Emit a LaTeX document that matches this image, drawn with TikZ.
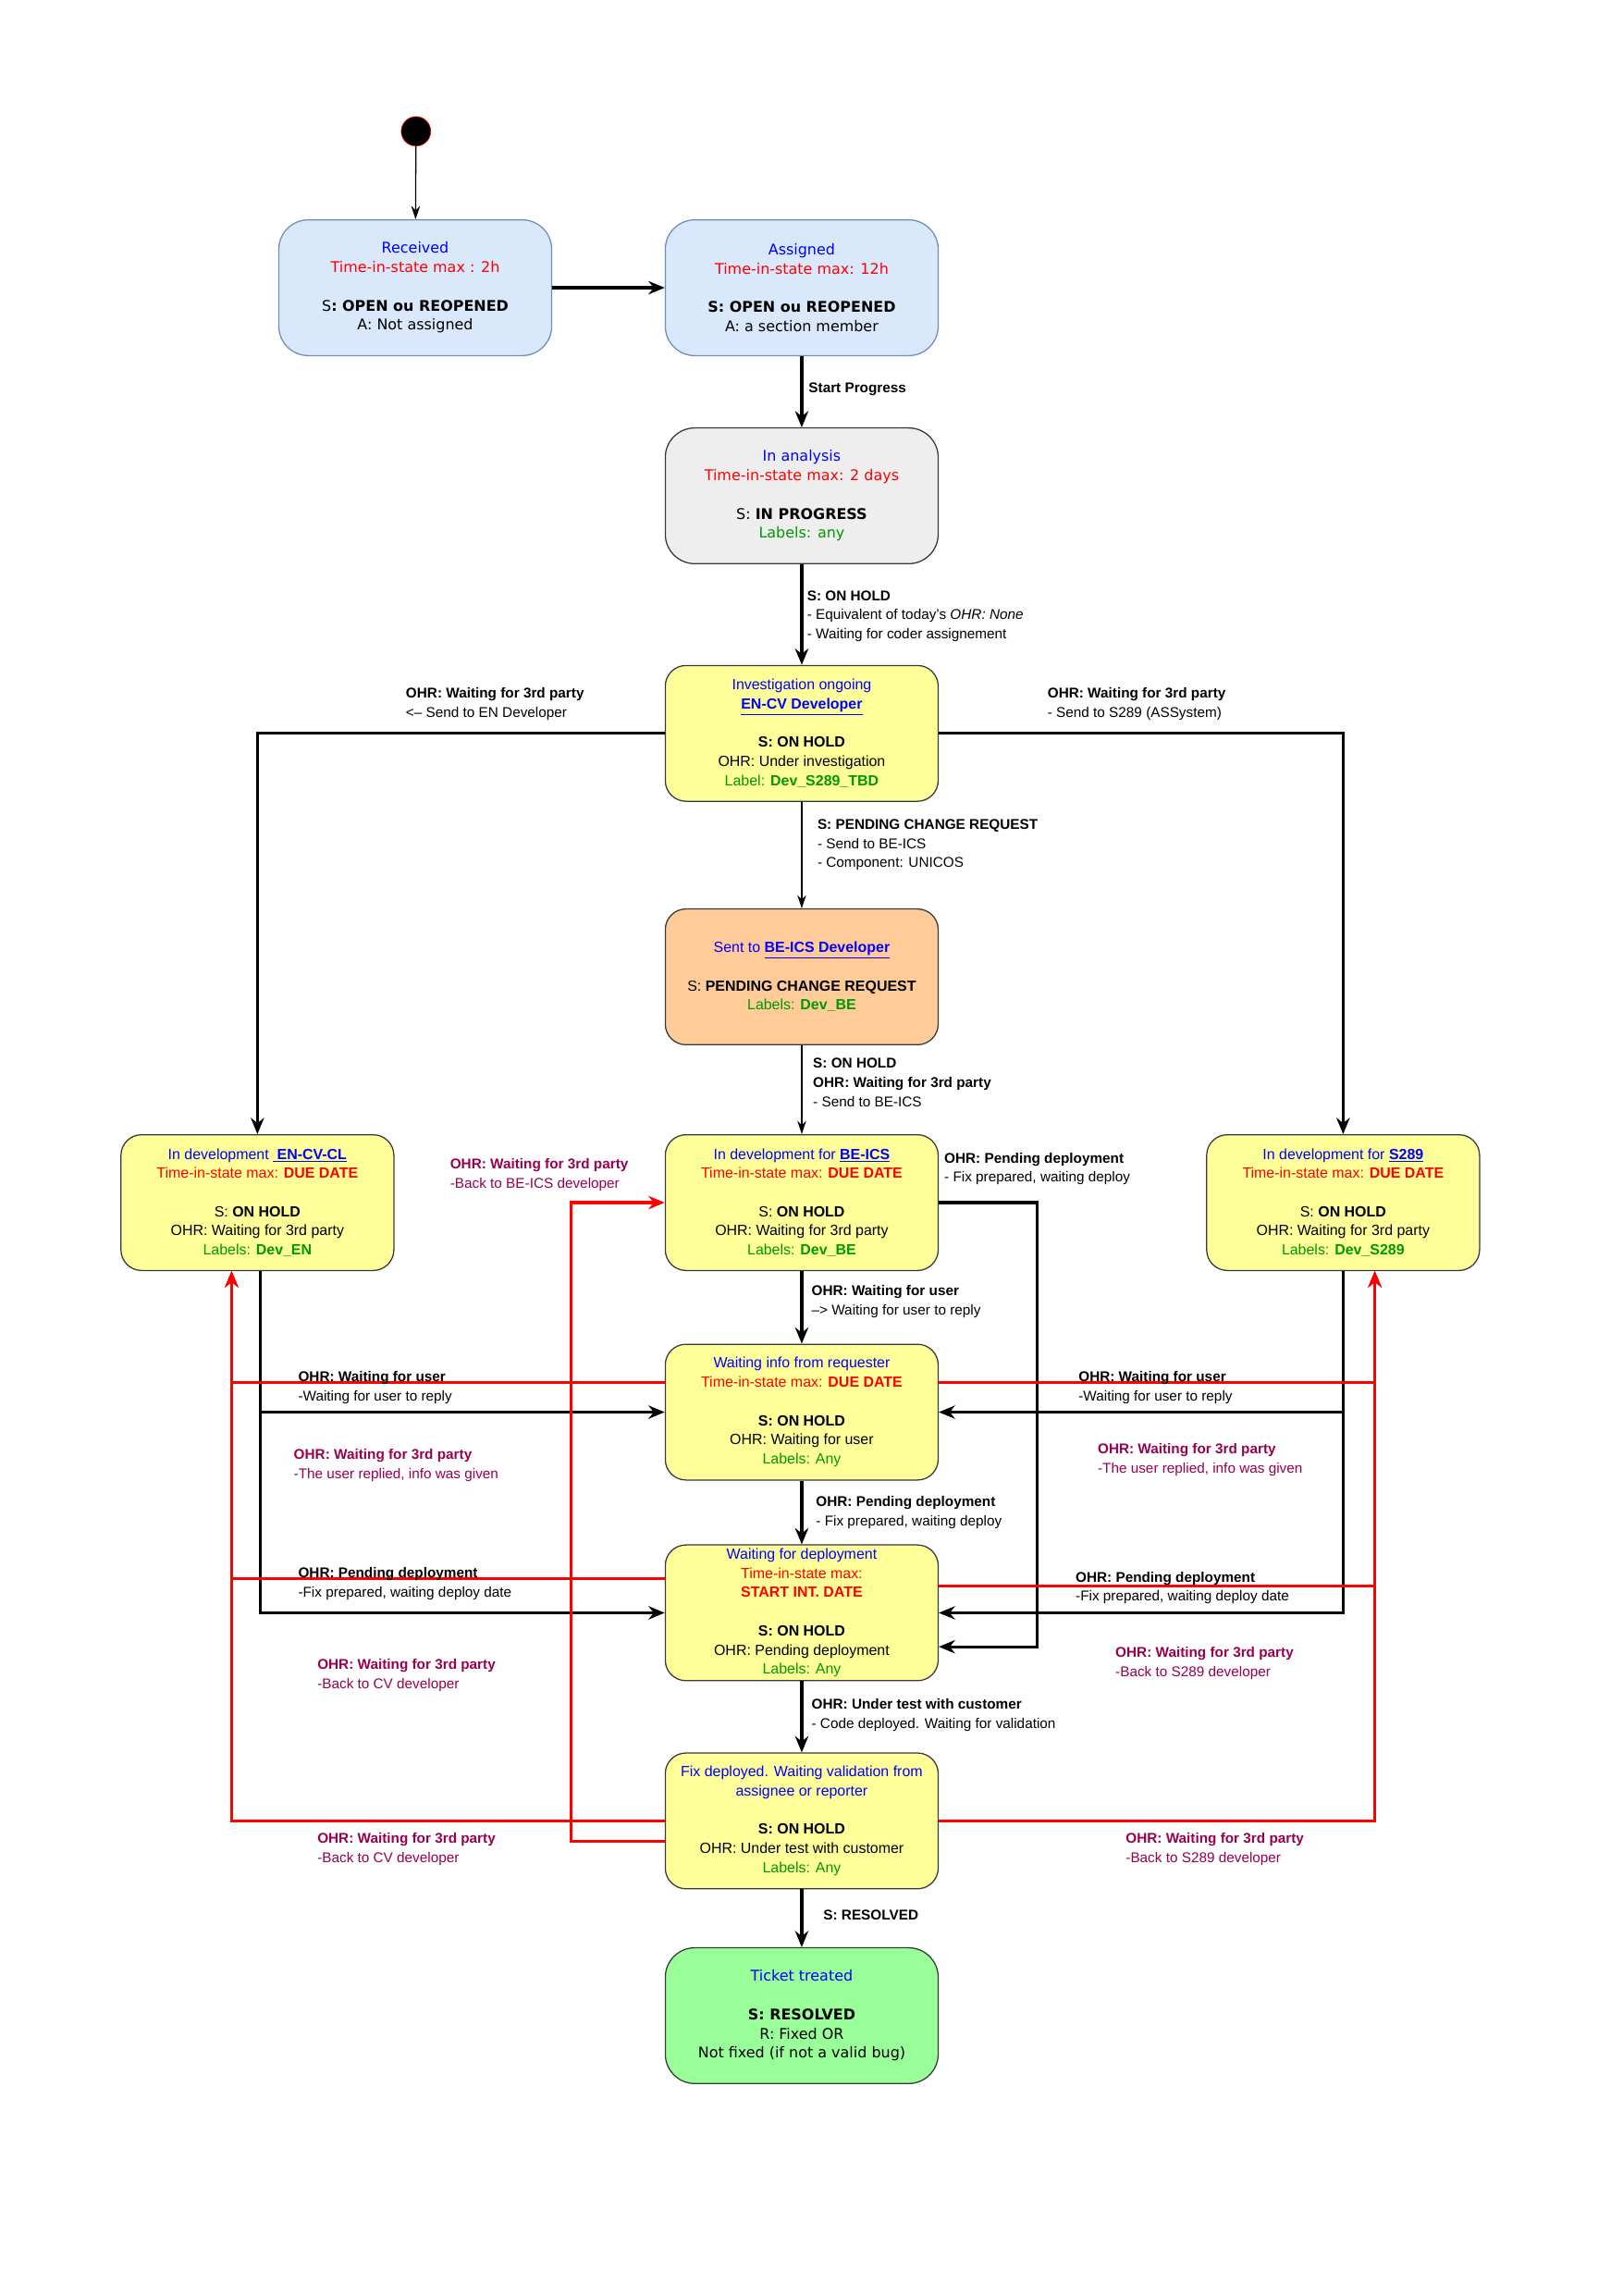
\documentclass[tikz,border=0pt]{standalone}
\usepackage{fontspec}
\setmainfont{Liberation Sans}
\newfontfamily\dv{DejaVu Sans}
\usetikzlibrary{arrows.meta,calc}
\definecolor{bfill}{HTML}{DAE8FC}\definecolor{bdraw}{HTML}{6C8EBF}
\definecolor{gfill}{HTML}{EEEEEE}\definecolor{dk}{HTML}{36393D}
\definecolor{yfill}{HTML}{FFFF99}\definecolor{ofill}{HTML}{FFCC99}
\definecolor{grfill}{HTML}{99FF99}\definecolor{lblue}{HTML}{0000FF}
\definecolor{lred}{HTML}{FF0000}\definecolor{lgreen}{HTML}{009900}
\definecolor{purp}{HTML}{99004D}
\newcommand{\bl}[1]{\textcolor{lblue}{#1}}
\newcommand{\rd}[1]{\textcolor{lred}{#1}}
\newcommand{\gr}[1]{\textcolor{lgreen}{#1}}
\newcommand{\lk}[1]{\textcolor{lblue}{\underline{\textbf{#1}}}}
\begin{document}
\begin{tikzpicture}[x=1pt,y=-1pt,
 st/.style={draw=dk,fill=yfill,rounded corners=14pt,minimum width=185pt,minimum height=92pt,align=center,inner sep=2pt,font=\fontsize{10}{13}\selectfont,line width=0.8pt},
 top/.style={st,draw=bdraw,fill=bfill,rounded corners=20pt,font=\dv\fontsize{10}{13}\selectfont},
 lab/.style={anchor=north west,inner sep=0pt,align=left,font=\fontsize{9.6}{13}\selectfont},
 plab/.style={lab,text=purp},
 tk/.style={line width=2pt,-{Stealth[length=11pt,width=9pt]}},
 tn/.style={line width=0.8pt,-{Stealth[length=9pt,width=6pt]}},
 rk/.style={line width=2pt,draw=lred,-{Stealth[length=11pt,width=9pt]}}]
\useasboundingbox (0,0) rectangle (1100,1556);
\node[circle,draw=lred,fill=black,minimum size=20pt,inner sep=0pt] (s) at (282,89) {};
\node[top] (rec) at (281.5,195) {\bl{Received}\\ \rd{Time-in-state max : 2h}\\ ~\\ S\textbf{: OPEN ou REOPENED}\\ A: Not assigned};
\node[top] (asg) at (543.5,195) {\bl{Assigned}\\ \rd{Time-in-state max: 12h}\\ ~\\ \textbf{S: OPEN ou REOPENED}\\ A: a section member};
\node[top,draw=dk,fill=gfill] (ana) at (543.5,336) {\bl{In analysis}\\ \rd{Time-in-state max: 2 days}\\ ~\\ S: \textbf{IN PROGRESS}\\ \gr{Labels: any}};
\node[st] (inv) at (543.5,497) {\bl{Investigation ongoing}\\ \lk{EN-CV Developer}\\ ~\\ \textbf{S: ON HOLD}\\ OHR: Under investigation\\ \gr{Label: \textbf{Dev\_S289\_TBD}}};
\node[st,fill=ofill] (sbe) at (543.5,662) {\bl{Sent to \lk{BE-ICS Developer}}\\ ~\\ S: \textbf{PENDING CHANGE REQUEST}\\ \gr{Labels: \textbf{Dev\_BE}}};
\node[st] (den) at (174.5,815) {\bl{In development \lk{~EN-CV-CL}}\\ \rd{Time-in-state max: \textbf{DUE DATE}}\\ ~\\ S: \textbf{ON HOLD}\\ OHR: Waiting for 3rd party\\ \gr{Labels: \textbf{Dev\_EN}}};
\node[st] (dbe) at (543.5,815) {\bl{In development for \lk{BE-ICS}}\\ \rd{Time-in-state max: \textbf{DUE DATE}}\\ ~\\ S: \textbf{ON HOLD}\\ OHR: Waiting for 3rd party\\ \gr{Labels: \textbf{Dev\_BE}}};
\node[st] (dsp) at (910.5,815) {\bl{In development for \lk{S289}}\\ \rd{Time-in-state max: \textbf{DUE DATE}}\\ ~\\ S: \textbf{ON HOLD}\\ OHR: Waiting for 3rd party\\ \gr{Labels: \textbf{Dev\_S289}}};
\node[st] (wi) at (543.5,957) {\bl{Waiting info from requester}\\ \rd{Time-in-state max: \textbf{DUE DATE}}\\ ~\\ \textbf{S: ON HOLD}\\ OHR: Waiting for user\\ \gr{Labels: Any}};
\node[st] (wd) at (543.5,1093) {\bl{Waiting for deployment}\\ \rd{Time-in-state max:}\\ \rd{\textbf{START INT. DATE}}\\ ~\\ \textbf{S: ON HOLD}\\ OHR: Pending deployment\\ \gr{Labels: Any}};
\node[st] (fx) at (543.5,1234) {\bl{Fix deployed. Waiting validation from}\\ \bl{assignee or reporter}\\ ~\\ \textbf{S: ON HOLD}\\ OHR: Under test with customer\\ \gr{Labels: Any}};
\node[top,draw=dk,fill=grfill] (tt) at (543.5,1366) {\bl{Ticket treated}\\ ~\\ \textbf{S: RESOLVED}\\ R: Fixed OR\\ Not fixed (if not a valid bug)};
% black connectors
\draw[tn] (s) -- (rec);
\draw[tk] (rec) -- (asg);
\draw[tk] (asg) -- (ana);
\draw[tk] (ana) -- (inv);
\draw[tk] (inv.west) -| (den.north);
\draw[tk] (inv.east) -| (dsp.north);
\draw[tn] (inv) -- (sbe);
\draw[tn] (sbe) -- (dbe);
\draw[tk] (dbe) -- (wi);
\draw[tk] (wi) -- (wd);
\draw[tk] (wd) -- (fx);
\draw[tk] (fx) -- (tt);
\draw[tk] ([yshift=0pt]dbe.east) -- (703,815) |- ([yshift=-23pt]wd.east);
\draw[tk] ([xshift=2pt]den.south) |- (wi.west);
\draw[tk] ([xshift=2pt]den.south) |- (wd.west);
\draw[tk] (dsp.south) |- (wi.east);
\draw[tk] (dsp.south) |- (wd.east);
% red connectors
\draw[rk] ([yshift=20pt]wi.west) -| ([xshift=-17.5pt]den.south);
\draw[rk] ([yshift=20pt]wi.east) -| ([xshift=21.5pt]dsp.south);
\draw[rk] ([yshift=23pt]wd.west) -| ([xshift=-17.5pt]den.south);
\draw[rk] ([yshift=18pt]wd.east) -| ([xshift=21.5pt]dsp.south);
\draw[rk] (fx.west) -| ([xshift=-17.5pt]den.south);
\draw[rk] (fx.east) -| ([xshift=21.5pt]dsp.south);
\draw[rk] ([yshift=-14pt]fx.west) -| (387,815) -- (dbe.west);
% labels
\node[lab] (l1) at (548,259) {\textbf{Start Progress}};
\node[lab] (l2) at (547,400) {\textbf{S: ON HOLD}\\ - Equivalent of today's \textit{OHR: None}\\ - Waiting for coder assignement};
\node[lab] (l3) at (275,466) {\textbf{OHR: Waiting for 3rd party}\\ <-- Send to EN Developer};
\node[lab] (l4) at (710,466) {\textbf{OHR: Waiting for 3rd party}\\ - Send to S289 (ASSystem)};
\node[lab] (l5) at (554,555) {\textbf{S: PENDING CHANGE REQUEST}\\ - Send to BE-ICS\\ - Component: UNICOS};
\node[lab] (l6) at (551,717) {\textbf{S: ON HOLD}\\ \textbf{OHR: Waiting for 3rd party}\\ - Send to BE-ICS};
\node[lab] (l7) at (640,781) {\textbf{OHR: Pending deployment}\\ - Fix prepared, waiting deploy};
\node[plab] (l8) at (305,785) {\textbf{OHR: Waiting for 3rd party}\\ -Back to BE-ICS developer};
\node[lab] (l9) at (550,871) {\textbf{OHR: Waiting for user}\\ --> Waiting for user to reply};
\node[lab] (l10) at (202,929) {\textbf{OHR: Waiting for user}\\ -Waiting for user to reply};
\node[lab] (l11) at (731,929) {\textbf{OHR: Waiting for user}\\ -Waiting for user to reply};
\node[plab] (l12) at (199,982) {\textbf{OHR: Waiting for 3rd party}\\ -The user replied, info was given};
\node[plab] (l13) at (744,978) {\textbf{OHR: Waiting for 3rd party}\\ -The user replied, info was given};
\node[lab] (l14) at (553,1014) {\textbf{OHR: Pending deployment}\\ - Fix prepared, waiting deploy};
\node[lab] (l15) at (202,1062) {\textbf{OHR: Pending deployment}\\ -Fix prepared, waiting deploy date};
\node[lab] (l16) at (729,1065) {\textbf{OHR: Pending deployment}\\ -Fix prepared, waiting deploy date};
\node[plab] (l17) at (215,1124) {\textbf{OHR: Waiting for 3rd party}\\ -Back to CV developer};
\node[plab] (l18) at (756,1116) {\textbf{OHR: Waiting for 3rd party}\\ -Back to S289 developer};
\node[lab] (l19) at (550,1151) {\textbf{OHR: Under test with customer}\\ - Code deployed. Waiting for validation};
\node[plab] (l20) at (215,1242) {\textbf{OHR: Waiting for 3rd party}\\ -Back to CV developer};
\node[plab] (l21) at (763,1242) {\textbf{OHR: Waiting for 3rd party}\\ -Back to S289 developer};
\node[lab] (l22) at (558,1294) {\textbf{S: RESOLVED}};
\end{tikzpicture}
\end{document}
